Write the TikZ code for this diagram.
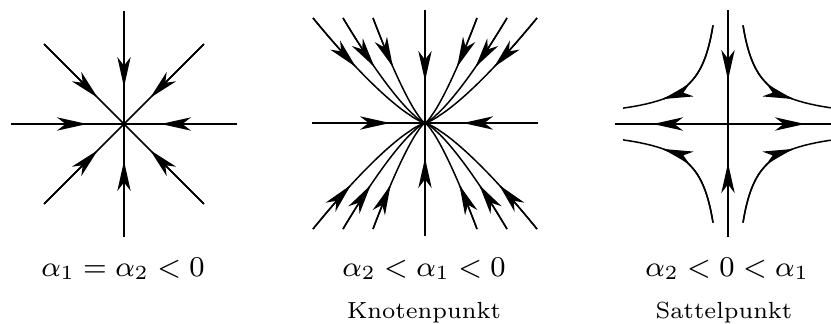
\RequirePackage{fix-cm}
\documentclass[tikz,border=0pt]{standalone}
\usetikzlibrary{arrows.meta}
\tikzset{
  flow/.style={line width=0.45pt},
  arr/.style={flow,-{Stealth[length=9pt,width=4pt,inset=2.6pt]}},
  mathlbl/.style={anchor=base,inner sep=0pt,font=\fontsize{8.6}{10}\selectfont},
  txtlbl/.style={anchor=base,inner sep=0pt,font=\fontsize{7}{8.4}\selectfont}
}
\begin{document}
\begin{tikzpicture}[x=0.3pt,y=-0.3pt]
\useasboundingbox (0,0) rectangle (831,323);
\clip (0,0) rectangle (831,323);

% ---------- panel 1: star node ----------
\begin{scope}[shift={(124,124)}]
  \coordinate (O1) at (0,0);
  \foreach \a in {0,45,...,315}{
    \coordinate (E1) at (\a:113);
    \coordinate (T1) at (\a:37);
    \draw[flow] (E1) -- (O1);
    \draw[arr] (E1) -- (T1);
  }
\end{scope}

% ---------- panel 2: node ----------
\begin{scope}[shift={(425,123)}]
  \coordinate (O2) at (0,0);
  \foreach \ex/\ey/\tx/\ty in {0/-113/0/-42, 0/113/0/35, -113/0/-35/0, 113/0/38/0}{
    \coordinate (E2) at (\ex,\ey);
    \coordinate (T2) at (\tx,\ty);
    \draw[flow] (E2) -- (O2);
    \draw[arr] (E2) -- (T2);
  }
  \foreach \xo in {-112,-82,-52,52,82,112}{
    \foreach \yo/\tp in {-105/0.617, 106/0.662}{
      \draw[flow] plot[domain=1:0.002,samples=80,variable=\t] ({\xo*\t},{\yo*pow(\t,1.3)}) -- (O2);
      \draw[arr] plot[domain=1:\tp,samples=25,variable=\t] ({\xo*\t},{\yo*pow(\t,1.3)});
    }
  }
\end{scope}

% ---------- panel 3: saddle ----------
\begin{scope}[shift={(728,124)}]
  \coordinate (O3) at (0,0);
  \coordinate (L3) at (-113,0); \coordinate (LT3) at (-75,0);
  \coordinate (R3) at (115,0);  \coordinate (RT3) at (77,0);
  \coordinate (U3) at (0,-114); \coordinate (UT3) at (0,-44);
  \coordinate (D3) at (0,113);  \coordinate (DT3) at (0,39);
  \draw[flow] (L3) -- (R3);
  \draw[flow] (U3) -- (D3);
  \draw[arr] (O3) -- (LT3);
  \draw[arr] (O3) -- (RT3);
  \draw[arr] (U3) -- (UT3);
  \draw[arr] (D3) -- (DT3);
  \foreach \sx in {-1,1}{
    \foreach \sy in {-1,1}{
      \draw[flow] plot[domain=15:105,samples=90,variable=\u] ({\sx*\u},{\sy*1248*pow(\u,-0.937)});
      \draw[arr] plot[domain=15:65,samples=60,variable=\u] ({\sx*\u},{\sy*1248*pow(\u,-0.937)});
    }
  }
\end{scope}

% ---------- labels ----------
\node[mathlbl] (l1) at (123,276) {$\alpha_1=\alpha_2<0$};
\node[mathlbl] (l2) at (424,276) {$\alpha_2<\alpha_1<0$};
\node[mathlbl] (l3) at (727,276) {$\alpha_2<0<\alpha_1$};
\node[txtlbl] (k2) at (424,318) {Knotenpunkt};
\node[txtlbl] (s3) at (724,318) {Sattelpunkt};
\end{tikzpicture}
\end{document}
